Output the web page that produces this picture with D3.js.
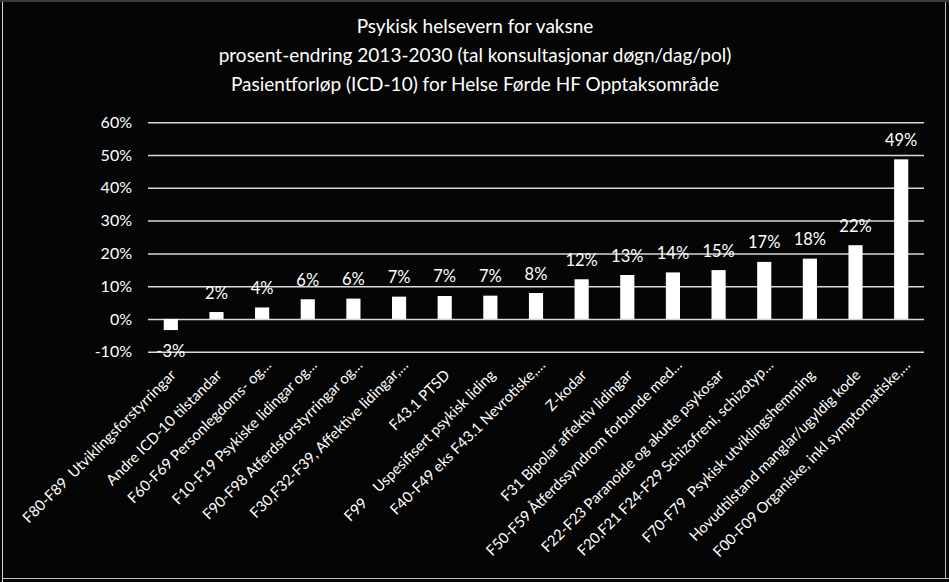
<!DOCTYPE html>
<html><head><meta charset="utf-8">
<script src="https://cdn.jsdelivr.net/npm/d3@7"></script>
<style>
html,body{margin:0;padding:0;background:#050505;}
svg{display:block;}
</style></head>
<body>
<script>
const categories = [
  "F80-F89  Utviklingsforstyrringar",
  "Andre ICD-10 tilstandar",
  "F60-F69 Personlegdoms- og…",
  "F10-F19 Psykiske lidingar og…",
  "F90-F98 Atferdsforstyrringar og…",
  "F30,F32-F39, Affektive lidingar,…",
  "F43.1 PTSD",
  "F99    Uspesifisert psykisk liding",
  "F40-F49 eks F43.1 Nevrotiske,…",
  "Z-kodar",
  "F31 Bipolar affektiv lidingar",
  "F50-F59 Åtferdssyndrom forbunde med…",
  "F22-F23 Paranoide og akutte psykosar",
  "F20,F21 F24-F29 Schizofreni, schizotyp…",
  "F70-F79  Psykisk utviklingshemming",
  "Hovudtilstand manglar/ugyldig kode",
  "F00-F09 Organiske, inkl symptomatiske,…"
];
const values = [-0.034, 0.021, 0.035, 0.060, 0.062, 0.068, 0.070, 0.071, 0.079, 0.121, 0.134, 0.142, 0.149, 0.174, 0.184, 0.225, 0.487];
const valueLabels = ["-3%","2%","4%","6%","6%","7%","7%","7%","8%","12%","13%","14%","15%","17%","18%","22%","49%"];
const yTicks = [-0.1, 0, 0.1, 0.2, 0.3, 0.4, 0.5, 0.6];
const titleLines = [
  "Psykisk helsevern for vaksne",
  "prosent-endring 2013-2030 (tal konsultasjonar døgn/dag/pol)",
  "Pasientforløp (ICD-10) for Helse Førde HF Opptaksområde"
];

const W = 949, H = 582;
const font = "Lato, 'Open Sans', sans-serif";
const svg = d3.select("body").append("svg").attr("width", W).attr("height", H);
svg.append("rect").attr("width", W).attr("height", H).attr("fill", "#050505");
// frame
svg.append("rect").attr("x", 0).attr("y", 0).attr("width", W).attr("height", 2).attr("fill", "#3a3a3a");
svg.append("line").attr("x1", 2.5).attr("x2", 2.5).attr("y1", 2).attr("y2", H).attr("stroke", "#d8d8d8").attr("stroke-width", 1);
svg.append("line").attr("x1", W - 3.5).attr("x2", W - 3.5).attr("y1", 2).attr("y2", H - 3).attr("stroke", "#bdbdbd").attr("stroke-width", 1);
svg.append("line").attr("x1", 2).attr("x2", W).attr("y1", H - 3.5).attr("y2", H - 3.5).attr("stroke", "#bdbdbd").attr("stroke-width", 1);

const x = d3.scaleBand().domain(categories).range([148, 924]).paddingInner(0.69).paddingOuter(0.345);
const y = d3.scaleLinear().domain([-0.1, 0.6]).range([351.7, 122.3]);

// title
svg.append("g").selectAll("text").data(titleLines).join("text")
  .attr("x", 475).attr("y", (d, i) => 33 + i * 29)
  .attr("text-anchor", "middle").attr("fill", "#fff")
  .style("font-family", font).style("font-size", "19px")
  .text(d => d);

// grid + y axis
const pct = d => (d < 0 ? "-" : "") + Math.round(Math.abs(d) * 100) + "%";
const yAxis = d3.axisLeft(y).tickValues(yTicks).tickFormat(pct).tickSize(-(924 - 148)).tickPadding(16);
const gy = svg.append("g").attr("transform", "translate(148,0)").call(yAxis);
gy.select(".domain").remove();
gy.selectAll(".tick line").attr("stroke", "#d9d9d9").attr("stroke-width", 1.5);
gy.selectAll(".tick text").attr("fill", "#fff").style("font-family", font).style("font-size", "16px");

// bars
svg.append("g").selectAll("rect").data(values).join("rect")
  .attr("x", (d, i) => x(categories[i]))
  .attr("width", x.bandwidth())
  .attr("y", d => y(Math.max(0, d)))
  .attr("height", d => Math.abs(y(d) - y(0)))
  .attr("fill", "#fff");

// value labels
svg.append("g").selectAll("text").data(values).join("text")
  .attr("x", (d, i) => x(categories[i]) + x.bandwidth() / 2)
  .attr("y", d => d >= 0 ? y(d) - 13.5 : y(d) + 27)
  .attr("text-anchor", "middle").attr("fill", "#fff")
  .style("font-family", font).style("font-size", "16.5px")
  .text((d, i) => valueLabels[i]);

// x category labels
svg.append("g").selectAll("text").data(categories).join("text")
  .attr("transform", d => {
    const cx = x(d) + x.bandwidth() / 2;
    const trunc = d.endsWith("…");
    return `translate(${cx + (trunc ? 10 : 6)},${trunc ? 366 : 376}) rotate(-45)`;
  })
  .attr("text-anchor", "end").attr("fill", "#fff")
  .style("font-family", font).style("font-size", "14.8px")
  .style("white-space", "pre")
  .text(d => d);
</script>
</body></html>
